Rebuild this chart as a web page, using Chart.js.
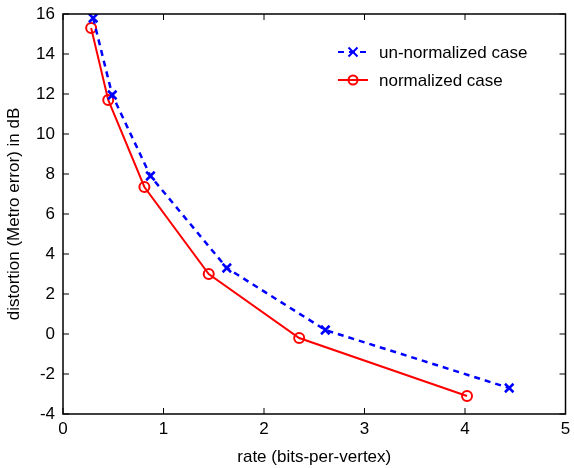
<!DOCTYPE html>
<html>
<head>
<meta charset="utf-8">
<script src="https://cdn.jsdelivr.net/npm/chart.js@4/dist/chart.umd.min.js"></script>
<style>
  html, body { margin: 0; padding: 0; background: #fff; }
  #wrap { width: 574px; height: 468px; }
</style>
</head>
<body>
<div id="wrap"><canvas id="rdChart"></canvas></div>
<script>
// Data
const unnormRate = [0.30, 0.49, 0.87, 1.63, 2.61, 4.44];
const unnormDist = [15.8, 11.95, 7.9, 3.3, 0.2, -2.7];
const normRate = [0.28, 0.45, 0.81, 1.45, 2.35, 4.02];
const normDist = [15.3, 11.7, 7.35, 3.0, -0.2, -3.1];
const xTicks = [0, 1, 2, 3, 4, 5];
const yTicks = [-4, -2, 0, 2, 4, 6, 8, 10, 12, 14, 16];

const FONT = 'Liberation Sans, Arial, sans-serif';
const FSIZE = 17;

function toPoints(xs, ys) {
    return xs.map((x, i) => ({ x: x, y: ys[i] }));
}

// Frame with inward ticks on all four sides, plus legend inside the plot
const framePlugin = {
    id: 'frame',
    afterDraw(chart) {
        const ctx = chart.ctx;
        const a = chart.chartArea;
        const xs = chart.scales.x;
        const ys = chart.scales.y;
        ctx.save();
        ctx.strokeStyle = '#000';
        ctx.lineWidth = 1.5;
        ctx.strokeRect(a.left, a.top, a.right - a.left, a.bottom - a.top);
        ctx.lineWidth = 1;
        const len = 6;
        ctx.beginPath();
        xTicks.forEach(v => {
            const px = xs.getPixelForValue(v);
            ctx.moveTo(px, a.bottom); ctx.lineTo(px, a.bottom - len);
            ctx.moveTo(px, a.top); ctx.lineTo(px, a.top + len);
        });
        yTicks.forEach(v => {
            const py = ys.getPixelForValue(v);
            ctx.moveTo(a.left, py); ctx.lineTo(a.left + len, py);
            ctx.moveTo(a.right, py); ctx.lineTo(a.right - len, py);
        });
        ctx.stroke();

        // legend
        const items = chart.data.datasets;
        const lx0 = 338, lx1 = 368, tx = 379;
        const rows = [52, 80];
        ctx.font = FSIZE + 'px ' + FONT;
        ctx.textBaseline = 'middle';
        items.forEach((ds, i) => {
            const y = rows[i];
            ctx.strokeStyle = ds.borderColor;
            ctx.lineWidth = 2;
            ctx.setLineDash(ds.borderDash || []);
            ctx.beginPath();
            ctx.moveTo(lx0, y); ctx.lineTo(lx1, y);
            ctx.stroke();
            ctx.setLineDash([]);
            const cx = (lx0 + lx1) / 2;
            ctx.beginPath();
            if (ds.pointStyle === 'crossRot') {
                const r = 4.5;
                ctx.moveTo(cx - r, y - r); ctx.lineTo(cx + r, y + r);
                ctx.moveTo(cx - r, y + r); ctx.lineTo(cx + r, y - r);
            } else {
                ctx.arc(cx, y, 4.5, 0, Math.PI * 2);
            }
            ctx.stroke();
            ctx.fillStyle = '#000';
            ctx.fillText(ds.label, tx, y + 1);
        });
        ctx.restore();
    }
};

new Chart(document.getElementById('rdChart'), {
    type: 'scatter',
    data: {
        datasets: [{
            label: 'un-normalized case',
            data: toPoints(unnormRate, unnormDist),
            showLine: true,
            borderColor: '#0000ff',
            backgroundColor: 'transparent',
            borderWidth: 2.5,
            borderDash: [6, 5],
            pointStyle: 'crossRot',
            pointRadius: 6,
            pointBorderWidth: 2.5,
            pointBorderColor: '#0000ff'
        }, {
            label: 'normalized case',
            data: toPoints(normRate, normDist),
            showLine: true,
            borderColor: '#ff0000',
            backgroundColor: 'transparent',
            borderWidth: 2,
            pointStyle: 'circle',
            pointRadius: 5,
            pointBorderWidth: 2,
            pointBorderColor: '#ff0000',
            pointBackgroundColor: 'transparent'
        }]
    },
    options: {
        responsive: true,
        maintainAspectRatio: false,
        animation: false,
        layout: { padding: { top: 14, right: 0, left: 0, bottom: 0 } },
        plugins: {
            legend: { display: false },
            tooltip: { enabled: false }
        },
        scales: {
            x: {
                type: 'linear',
                min: 0, max: 5,
                afterFit(scale) {
                    scale.height = 54;
                    scale.paddingLeft = 0;
                    scale.paddingRight = 0;
                },
                afterBuildTicks(scale) { scale.ticks = xTicks.map(v => ({ value: v })); },
                grid: { display: false, drawTicks: false },
                border: { display: false },
                ticks: { color: '#000', padding: 5, font: { family: FONT, size: FSIZE } },
                title: {
                    display: true,
                    text: 'rate (bits-per-vertex)',
                    color: '#000',
                    padding: { top: 2, bottom: 0 },
                    font: { family: FONT, size: FSIZE }
                }
            },
            y: {
                type: 'linear',
                min: -4, max: 16,
                afterFit(scale) {
                    scale.width = 63;
                    scale.paddingTop = 0;
                    scale.paddingBottom = 0;
                },
                afterBuildTicks(scale) { scale.ticks = yTicks.map(v => ({ value: v })); },
                grid: { display: false, drawTicks: false },
                border: { display: false },
                ticks: { color: '#000', padding: 8, font: { family: FONT, size: FSIZE } },
                title: {
                    display: true,
                    text: 'distortion (Metro error) in dB',
                    color: '#000',
                    padding: { top: 4, bottom: 0 },
                    font: { family: FONT, size: FSIZE }
                }
            }
        }
    },
    plugins: [framePlugin]
});
</script>
</body>
</html>
